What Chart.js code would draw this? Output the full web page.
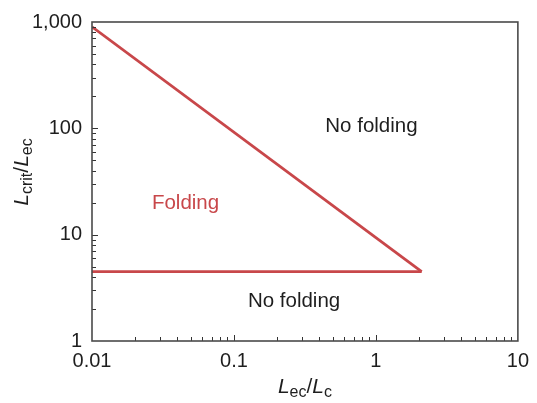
<!DOCTYPE html>
<html>
<head>
<meta charset="utf-8">
<script src="https://cdn.jsdelivr.net/npm/chart.js@4"></script>
<style>
html,body{margin:0;padding:0;background:#fff;}
#wrap{width:537px;height:403px;}
</style>
</head>
<body>
<div id="wrap"><canvas id="c" width="537" height="403"></canvas></div>
<script>
// Data
const diagX = [0.01, 2.1];
const diagY = [900, 4.5];
const flatX = [0.01, 2.1];
const flatY = [4.5, 4.5];
const xTickValues = [0.01, 0.1, 1, 10];
const xTickLabels = ['0.01', '0.1', '1', '10'];
const yTickValues = [1, 10, 100, 1000];
const yTickLabels = ['1', '10', '100', '1,000'];
const noteTexts = ['No folding', 'Folding', 'No folding'];
const noteX = [0.93, 0.0456, 0.265];
const noteY = [92.5, 17.3, 2.08];

const RED = '#c8474a';
const INK = '#1e1e1e';
const FONT = '"Liberation Sans", Arial, Helvetica, sans-serif';

const toPts = (xs, ys) => xs.map((x, i) => ({x: x, y: ys[i]}));

const decoPlugin = {
  id: 'deco',
  afterDatasetsDraw(chart) {
    const ctx = chart.ctx;
    const a = chart.chartArea;
    const xs = chart.scales.x, ys = chart.scales.y;
    ctx.save();
    // ticks (inward)
    ctx.strokeStyle = '#333';
    ctx.lineWidth = 1;
    ctx.beginPath();
    for (let d = -2; d <= 0; d++) {
      for (let m = 1; m <= 9; m++) {
        const v = m * Math.pow(10, d);
        const px = Math.round(xs.getPixelForValue(v)) + 0.5;
        const len = m === 1 ? 6 : 4;
        if (m === 1 && d === -2) continue;
        ctx.moveTo(px, a.bottom);
        ctx.lineTo(px, a.bottom - len);
      }
    }
    for (let d = 0; d <= 2; d++) {
      for (let m = 1; m <= 9; m++) {
        const v = m * Math.pow(10, d);
        const py = Math.round(ys.getPixelForValue(v)) + 0.5;
        const len = m === 1 ? 6 : 4;
        if (m === 1 && d === 0) continue;
        ctx.moveTo(a.left, py);
        ctx.lineTo(a.left + len, py);
      }
    }
    ctx.stroke();
    // frame
    ctx.strokeStyle = '#4a4a4a';
    ctx.lineWidth = 1.6;
    ctx.strokeRect(a.left, a.top, a.right - a.left, a.bottom - a.top);
    // annotations
    ctx.font = '20.5px ' + FONT;
    ctx.textAlign = 'center';
    ctx.textBaseline = 'alphabetic';
    noteTexts.forEach((t, i) => {
      ctx.fillStyle = i === 1 ? RED : INK;
      ctx.fillText(t, xs.getPixelForValue(noteX[i]), ys.getPixelForValue(noteY[i]));
    });
    // axis titles with italic L and subscripts
    function drawTitle(parts, cx, cy, rotate) {
      ctx.save();
      ctx.translate(cx, cy);
      if (rotate) ctx.rotate(-Math.PI / 2);
      let total = 0;
      parts.forEach(p => { ctx.font = p.f; total += ctx.measureText(p.t).width; });
      let x = -total / 2;
      ctx.textAlign = 'left';
      ctx.textBaseline = 'alphabetic';
      ctx.fillStyle = INK;
      parts.forEach(p => {
        ctx.font = p.f;
        ctx.fillText(p.t, x, p.dy);
        x += ctx.measureText(p.t).width;
      });
      ctx.restore();
    }
    const big = '21px ' + FONT, bigI = 'italic 21px ' + FONT, sub = '16px ' + FONT;
    drawTitle([
      {t: 'L', f: bigI, dy: 0}, {t: 'ec', f: sub, dy: 4},
      {t: '/', f: big, dy: 0},
      {t: 'L', f: bigI, dy: 0}, {t: 'c', f: sub, dy: 4}
    ], (a.left + a.right) / 2, 393, false);
    drawTitle([
      {t: 'L', f: bigI, dy: 0}, {t: 'crit', f: sub, dy: 4},
      {t: '/', f: big, dy: 0},
      {t: 'L', f: bigI, dy: 0}, {t: 'ec', f: sub, dy: 4}
    ], 28, 172, true);
    ctx.restore();
  }
};

new Chart(document.getElementById('c'), {
  type: 'scatter',
  data: {
    datasets: [
      {data: toPts(diagX, diagY), showLine: true, borderColor: RED, borderWidth: 2.8, pointRadius: 0, fill: false},
      {data: toPts(flatX, flatY), showLine: true, borderColor: RED, borderWidth: 2.8, pointRadius: 0, fill: false}
    ]
  },
  options: {
    responsive: false,
    animation: false,
    events: [],
    layout: {padding: {left: 0, right: 17, top: 16, bottom: 0}},
    plugins: {legend: {display: false}, tooltip: {enabled: false}},
    scales: {
      x: {
        type: 'logarithmic', min: 0.01, max: 10,
        grid: {display: false, drawTicks: false},
        border: {display: false},
        afterBuildTicks: s => { s.ticks = xTickValues.map(v => ({value: v})); },
        afterFit: s => { s.height = 62; },
        ticks: {
          autoSkip: false, maxRotation: 0, padding: 8, color: INK,
          font: {family: FONT, size: 20},
          callback: (v) => { const i = xTickValues.indexOf(v); return i >= 0 ? xTickLabels[i] : ''; }
        }
      },
      y: {
        type: 'logarithmic', min: 1, max: 1000,
        grid: {display: false, drawTicks: false},
        border: {display: false},
        afterBuildTicks: s => { s.ticks = yTickValues.map(v => ({value: v})); },
        afterFit: s => { s.width = 92; },
        ticks: {
          autoSkip: false, padding: 10, color: INK,
          font: {family: FONT, size: 20},
          callback: (v) => { const i = yTickValues.indexOf(v); return i >= 0 ? yTickLabels[i] : ''; }
        }
      }
    }
  },
  plugins: [decoPlugin]
});
</script>
</body>
</html>
